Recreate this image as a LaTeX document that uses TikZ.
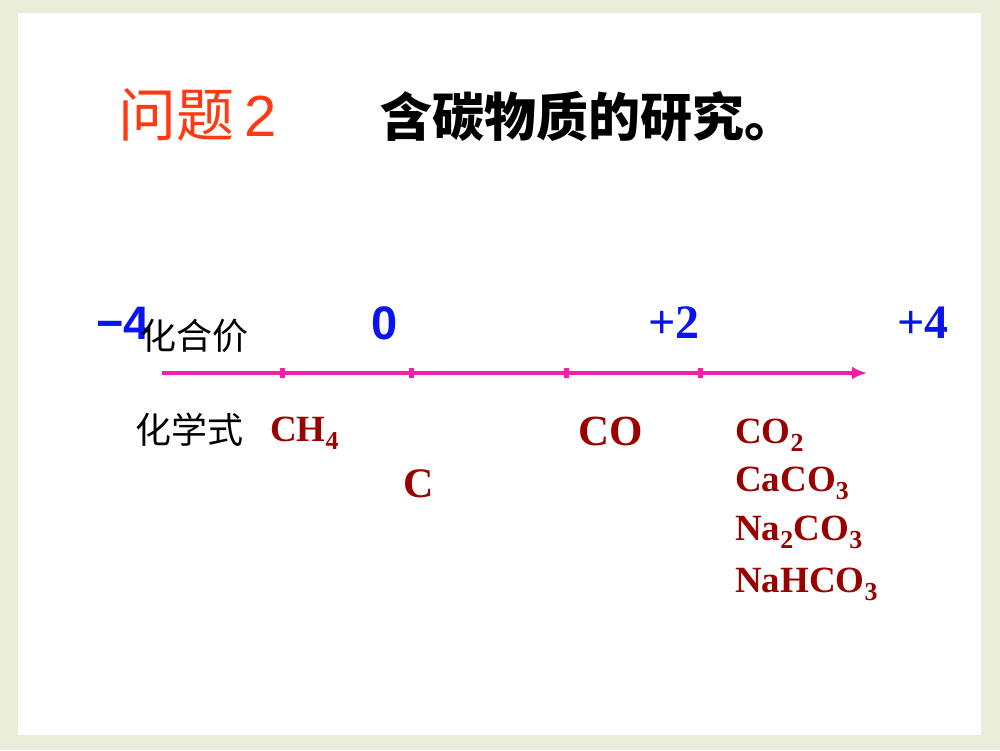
\documentclass[tikz,border=0pt]{standalone}
\usepackage{fontspec}
\setmainfont{Liberation Serif}
\newfontfamily\cjk{Noto Sans CJK SC}
\newfontfamily\arialfont{Liberation Sans}
\usetikzlibrary{arrows.meta}
\definecolor{pagebg}{HTML}{E9EDD9}
\definecolor{titlered}{HTML}{FF3A10}
\definecolor{valblue}{HTML}{0A14F0}
\definecolor{formred}{HTML}{990000}
\definecolor{axispink}{HTML}{F51FA8}
\newcommand\chsub[1]{\textsubscript{#1}}
\tikzset{
  valence/.style={text=valblue,inner sep=0pt},
  formula/.style={text=formred,anchor=base west,inner sep=0pt,font=\bfseries\fontsize{37}{40}\selectfont},
  rowlabel/.style={anchor=west,inner sep=0pt,font=\cjk\fontsize{36}{38}\selectfont},
  tickmark/.style={axispink,line width=5pt},
}
\begin{document}
\begin{tikzpicture}[x=1pt,y=-1pt]
    \useasboundingbox[fill=pagebg](0,0)rectangle(1000,750);
    \fill[white](18,13)rectangle(981,735);
    % title
    \node[anchor=west,inner sep=0pt,text=titlered,font=\cjk\fontsize{58}{60}\selectfont](q) at (118,115){问题\hspace{10pt}{\arialfont 2}};
    \node[anchor=west,inner sep=0pt,font=\cjk\bfseries\fontsize{52}{56}\selectfont](topic) at (380,117){含碳物质的研究。};
    % axis
    \coordinate (axisL) at (162,373);
    \coordinate (axisR) at (867,373);
    \draw[axispink,line width=4.5pt,-{Latex[length=15pt,width=13pt]}](axisL)--(axisR);
    \foreach \x in {282,411,566,700} \draw[tickmark](\x,368)--(\x,378);
    % valences
    \node[valence,font=\arialfont\bfseries\fontsize{47}{50}\selectfont](vm4) at (123,323){−4};
    \node[rowlabel](hhj) at (140,336){化合价};
    \node[valence,font=\arialfont\bfseries\fontsize{47}{50}\selectfont](v0) at (385,323){0};
    \node[valence,font=\bfseries\fontsize{48}{50}\selectfont](vp2) at (674,323){+2};
    \node[valence,font=\bfseries\fontsize{48}{50}\selectfont](vp4) at (923,323){+4};
    % formulas
    \node[rowlabel](hxs) at (135,430){化学式};
    \node[formula](ch4) at (270,441){CH\chsub{4}};
    \node[formula,font=\bfseries\fontsize{42}{44}\selectfont](c) at (403,497){C};
    \node[formula,font=\bfseries\fontsize{43}{45}\selectfont](co) at (578,445){CO};
    \node[formula](co2) at (735,443){CO\chsub{2}};
    \node[formula](caco3) at (735,491){CaCO\chsub{3}};
    \node[formula](na2co3) at (735,540){Na\chsub{2}CO\chsub{3}};
    \node[formula](nahco3) at (735,592){NaHCO\chsub{3}};
\end{tikzpicture}
\end{document}
